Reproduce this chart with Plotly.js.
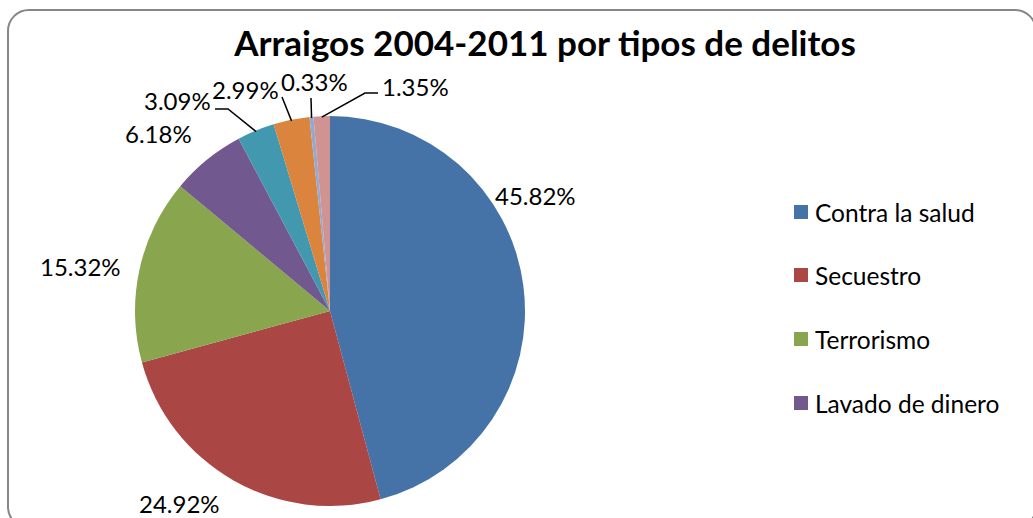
<!DOCTYPE html>
<html>
<head>
<meta charset="utf-8">
<script src="https://cdn.plot.ly/plotly-3.0.1.min.js"></script>
<style>
  html, body { margin: 0; padding: 0; background: #fff; }
  #wrap { position: relative; width: 1033px; height: 518px; overflow: hidden; }
  #chart { position: absolute; left: 0; top: 0; width: 1033px; height: 518px; }
  #frame { position: absolute; left: 7px; top: 9px; width: 1030px; height: 520px;
           border: 2px solid #878787; border-radius: 22px; pointer-events: none; box-sizing: border-box; }
</style>
</head>
<body>
<div id="wrap"><div id="chart"></div><div id="frame"></div></div>
<script>
// ---- data ----
const categories = ['Contra la salud', 'Secuestro', 'Terrorismo', 'Lavado de dinero',
                    'Otros 1', 'Otros 2', 'Otros 3', 'Otros 4'];
const values = [45.82, 24.92, 15.32, 6.18, 3.09, 2.99, 0.33, 1.35];
const labelsText = ['45.82%', '24.92%', '15.32%', '6.18%', '3.09%', '2.99%', '0.33%', '1.35%'];
const legendShown = ['Contra la salud', 'Secuestro', 'Terrorismo', 'Lavado de dinero'];
const titleText = 'Arraigos 2004-2011 por tipos de delitos';

// ---- style / layout ----
const colors = ['#4572A7', '#AA4643', '#89A54E', '#71588F', '#4198AF', '#DB843D', '#93A9CF', '#D19392'];
const W = 1033, H = 518;
const cx = 330, cy = 311, R = 195;               // pie centre / radius in px
const labelPos = [[535, 195], [179, 503], [80, 266], [158, 134], [177, 101], [245, 89], [314, 81], [415, 86]];
const leaderPts = {4: [[215, 109], [228, 109]], 5: [[282, 97]], 6: [[311, 98]], 7: [[378, 93], [365, 93]]};
const FONT = 'Lato, "Open Sans", sans-serif';

const px = x => x / W;
const py = y => 1 - y / H;

const total = values.reduce((a, b) => a + b, 0);
let cum = 0;
const midAngles = values.map(v => { const m = (cum + v / 2) / total * 2 * Math.PI; cum += v; return m; });

const shapes = [];
const annotations = [];

values.forEach((v, i) => {
  annotations.push({
    x: px(labelPos[i][0]), y: py(labelPos[i][1]), xref: 'paper', yref: 'paper',
    text: labelsText[i], showarrow: false, xanchor: 'center', yanchor: 'middle',
    font: {family: FONT, size: 24, color: '#000'}
  });
  if (leaderPts[i]) {
    const a = midAngles[i];
    const ex = cx + (R - 1) * Math.sin(a), ey = cy - (R - 1) * Math.cos(a);
    const pts = leaderPts[i].concat([[ex, ey]]);
    const path = pts.map((p, k) => (k ? 'L' : 'M') + px(p[0]) + ',' + py(p[1])).join(' ');
    shapes.push({type: 'path', xref: 'paper', yref: 'paper', path: path,
                 line: {color: '#000', width: 1.5}});
  }
});

// manual legend (only first four entries, as in the original)
const legendRows = [212, 275, 339, 403];
legendShown.forEach((name, i) => {
  const idx = categories.indexOf(name);
  const y = legendRows[i];
  shapes.push({type: 'rect', xref: 'paper', yref: 'paper',
               x0: px(794), x1: px(808), y0: py(y + 7), y1: py(y - 7),
               fillcolor: colors[idx], line: {width: 0}});
  annotations.push({x: px(813), y: py(y), xref: 'paper', yref: 'paper', text: name,
                    showarrow: false, xanchor: 'left', yanchor: 'middle',
                    font: {family: FONT, size: 24.5, color: '#000'}});
});

const trace = {
  type: 'pie',
  labels: categories,
  values: values,
  sort: false,
  direction: 'clockwise',
  rotation: 0,
  textinfo: 'none',
  hoverinfo: 'label+percent',
  showlegend: false,
  marker: {colors: colors, line: {width: 0}},
  domain: {x: [px(cx - R), px(cx + R)], y: [py(cy + R), py(cy - R)]}
};

const layout = {
  width: W, height: H, autosize: false,
  margin: {l: 0, r: 0, t: 0, b: 0, pad: 0},
  paper_bgcolor: '#fff',
  showlegend: false,
  title: {text: '<b>' + titleText + '</b>', x: px(545), xanchor: 'center', xref: 'paper',
          y: py(44), yanchor: 'middle', yref: 'paper',
          font: {family: FONT, size: 35, color: '#000'}},
  shapes: shapes,
  annotations: annotations
};

Plotly.newPlot('chart', [trace], layout, {displayModeBar: false, staticPlot: true});
</script>
</body>
</html>
